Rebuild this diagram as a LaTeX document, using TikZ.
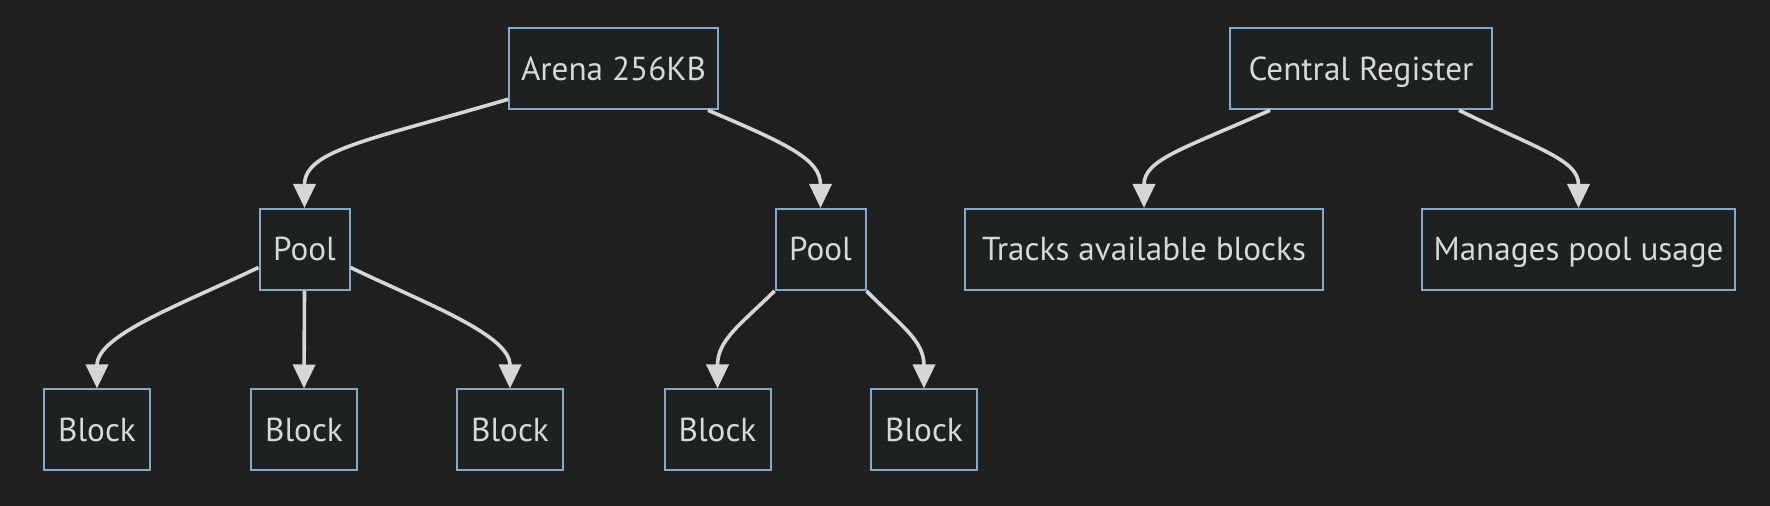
\documentclass[tikz,border=0pt]{standalone}
\usepackage{fontspec}
\setmainfont{PT Sans}
\usetikzlibrary{arrows.meta}
\definecolor{bgc}{RGB}{31,31,31}
\definecolor{boxfill}{RGB}{31,32,32}
\definecolor{boxline}{RGB}{129,170,205}
\definecolor{txt}{RGB}{216,216,216}
\definecolor{edge}{RGB}{214,214,214}
\tikzset{
  box/.style={draw=boxline, line width=1pt, fill=boxfill, text=txt, font=\fontsize{16.6}{19}\selectfont,
    minimum height=40.5pt, inner sep=0pt, anchor=center, text height=15pt, text depth=3.5pt},
  link/.style={draw=edge, line width=1.8pt, -{Triangle[length=12pt,width=11pt]}},
}
\begin{document}
\begin{tikzpicture}[x=0.5pt,y=-0.5pt]
\fill[bgc] (0,0) rectangle (1770,506);
\useasboundingbox (0,0) rectangle (1770,506);
% nodes
\node[box, minimum width=104.5pt] (arena) at (613.5,68.8) {Arena 256KB};
\node[box, minimum width=131pt] (central) at (1361,68.8) {Central Register};
\node[box, minimum width=45pt] (pool1) at (304.5,249.5) {Pool};
\node[box, minimum width=45pt] (pool2) at (820.5,249.5) {Pool};
\node[box, minimum width=179pt] (tracks) at (1144,249.5) {Tracks available blocks};
\node[box, minimum width=156.5pt] (manages) at (1578.5,249.5) {Manages pool usage};
\node[box, minimum width=53pt] (b1) at (97,430) {Block};
\node[box, minimum width=53pt] (b2) at (304,430) {Block};
\node[box, minimum width=53pt] (b3) at (510,430) {Block};
\node[box, minimum width=53pt] (b4) at (717.5,430) {Block};
\node[box, minimum width=53pt] (b5) at (924,430) {Block};
% edges
\draw[link] ([yshift=5.5pt]arena.south west) .. controls (370,140) and (304.5,150) .. (pool1.north);
\draw[link] ([xshift=-5.5pt]arena.south east) .. controls (790,145) and (820.5,160) .. (pool2.north);
\draw[link] ([yshift=-9pt]pool1.west) .. controls (180,305) and (97,335) .. (b1.north);
\draw[link] (pool1.south) -- (b2.north);
\draw[link] ([yshift=-9pt]pool1.east) .. controls (429,305) and (510,335) .. (b3.north);
\draw[link] (pool2.south west) .. controls (740,325) and (717.5,340) .. (b4.north);
\draw[link] (pool2.south east) .. controls (900,325) and (924,340) .. (b5.north);
\draw[link] ([xshift=20.5pt]central.south west) .. controls (1180,150) and (1144,160) .. (tracks.north);
\draw[link] ([xshift=-17pt]central.south east) .. controls (1540,150) and (1578.5,160) .. (manages.north);
\end{tikzpicture}
\end{document}
